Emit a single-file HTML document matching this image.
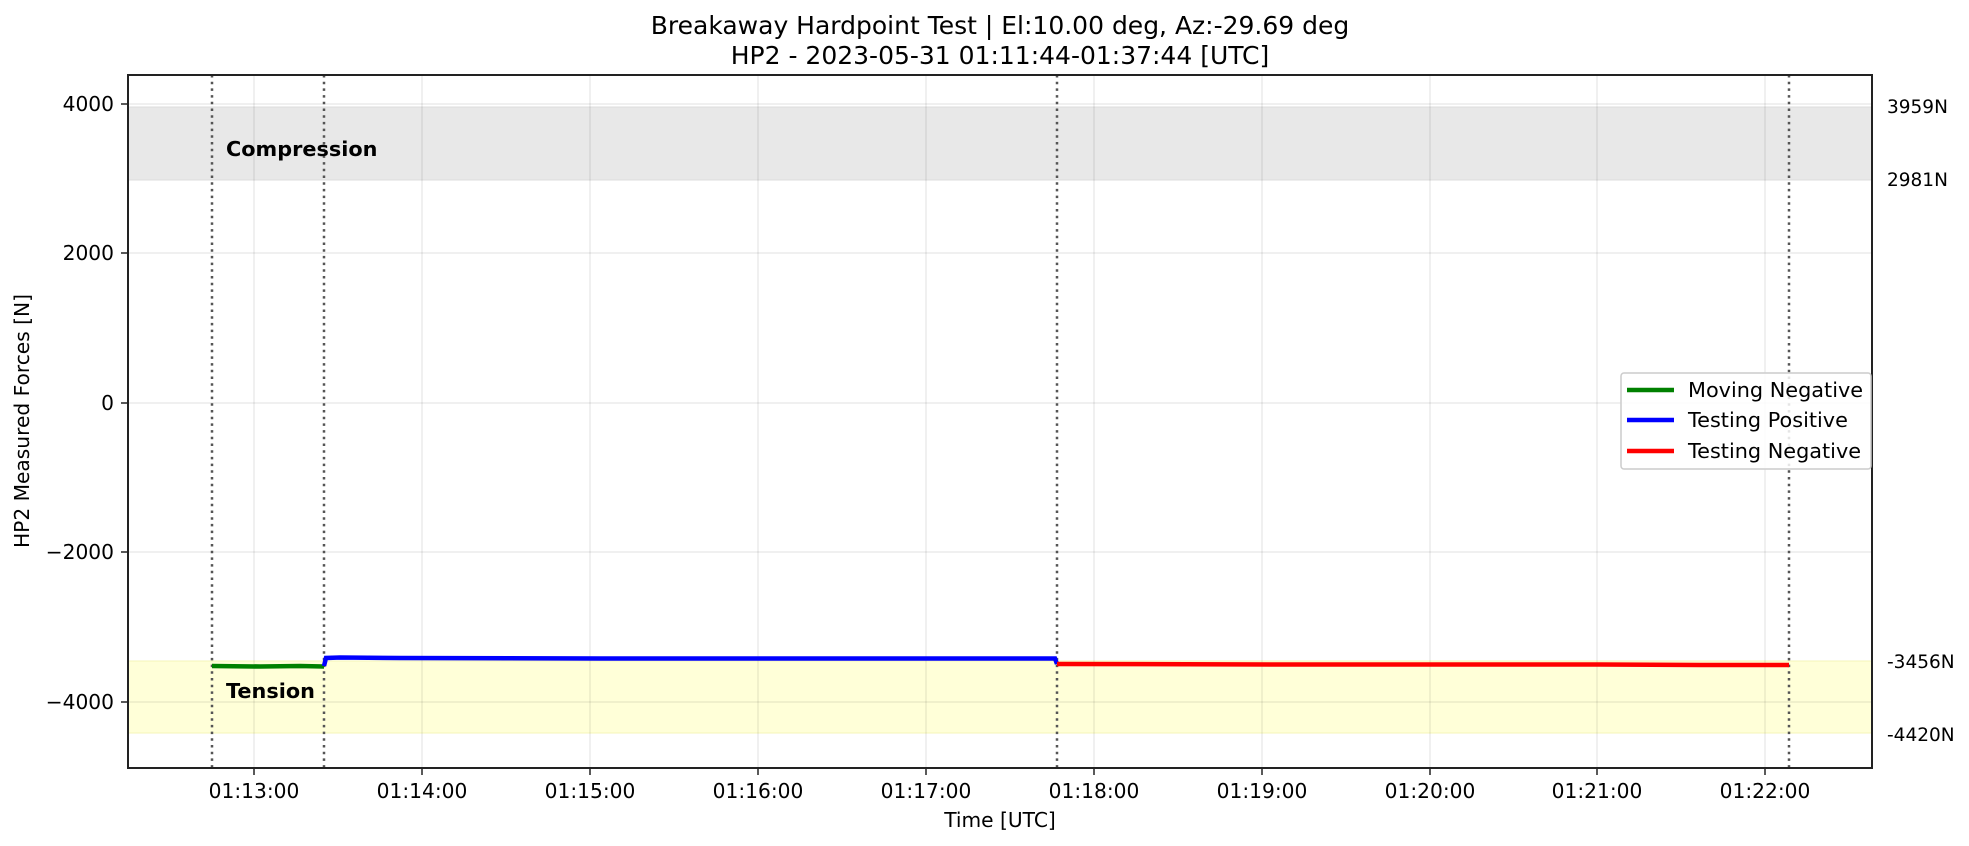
<!DOCTYPE html>
<html><head><meta charset="utf-8"><style>
html,body{margin:0;padding:0;background:#fff}
svg{display:block;font-family:"DejaVu Sans","Liberation Sans",sans-serif}
</style></head><body>
<svg width="1969" height="846" viewBox="0 0 1969 846" xmlns="http://www.w3.org/2000/svg">
<rect width="1969" height="846" fill="#fff"/>
<text x="1000" y="34" font-size="25" text-anchor="middle">Breakaway Hardpoint Test | El:10.00 deg, Az:-29.69 deg</text>
<text x="1000" y="64" font-size="25" text-anchor="middle">HP2 - 2023-05-31 01:11:44-01:37:44 [UTC]</text>
<rect x="128" y="107" width="1744" height="73" fill="#e8e8e8"/>
<line x1="128" y1="107" x2="1872" y2="107" stroke="#dcdcdc" stroke-width="1"/>
<line x1="128" y1="180" x2="1872" y2="180" stroke="#dcdcdc" stroke-width="1"/>
<rect x="128" y="661" width="1744" height="72" fill="#ffffd8"/>
<line x1="128" y1="661" x2="1872" y2="661" stroke="#f5f5b8" stroke-width="1"/>
<line x1="128" y1="733" x2="1872" y2="733" stroke="#f5f5b8" stroke-width="1"/>
<g stroke="#000" stroke-opacity="0.08" stroke-width="1.5">
<line x1="128" y1="104" x2="1872" y2="104"/>
<line x1="128" y1="253" x2="1872" y2="253"/>
<line x1="128" y1="403" x2="1872" y2="403"/>
<line x1="128" y1="552" x2="1872" y2="552"/>
<line x1="128" y1="702" x2="1872" y2="702"/>
<line x1="254" y1="75" x2="254" y2="768"/>
<line x1="422" y1="75" x2="422" y2="768"/>
<line x1="590" y1="75" x2="590" y2="768"/>
<line x1="758" y1="75" x2="758" y2="768"/>
<line x1="926" y1="75" x2="926" y2="768"/>
<line x1="1094" y1="75" x2="1094" y2="768"/>
<line x1="1262" y1="75" x2="1262" y2="768"/>
<line x1="1430" y1="75" x2="1430" y2="768"/>
<line x1="1597" y1="75" x2="1597" y2="768"/>
<line x1="1765" y1="75" x2="1765" y2="768"/>
</g>
<g stroke="#555" stroke-width="2.5" stroke-dasharray="2.5,4.2">
<line x1="212" y1="75" x2="212" y2="768"/>
<line x1="324" y1="75" x2="324" y2="768"/>
<line x1="1057" y1="75" x2="1057" y2="768"/>
<line x1="1789" y1="75" x2="1789" y2="768"/>
</g>
<polyline points="212,666 260,666.5 300,666 324,666.5" fill="none" stroke="#008000" stroke-width="4.5"/>
<polyline points="324,666 326,658 340,657.5 400,658 600,658.5 800,658.5 1000,658.5 1055,658.5 1057,664" fill="none" stroke="#0000ff" stroke-width="4.5"/>
<polyline points="1057,664 1300,664.5 1600,664.5 1700,665 1789,665" fill="none" stroke="#ff0000" stroke-width="4.5"/>
<text x="226" y="156" font-size="20.8" font-weight="bold">Compression</text>
<text x="226" y="698" font-size="20.8" font-weight="bold">Tension</text>
<rect x="128" y="75" width="1744" height="693" fill="none" stroke="#222" stroke-width="2"/>
<g stroke="#222" stroke-width="1.5">
<line x1="121" y1="104" x2="128" y2="104"/><line x1="121" y1="253" x2="128" y2="253"/>
<line x1="121" y1="403" x2="128" y2="403"/><line x1="121" y1="552" x2="128" y2="552"/>
<line x1="121" y1="702" x2="128" y2="702"/>
<line x1="254" y1="768" x2="254" y2="775"/><line x1="422" y1="768" x2="422" y2="775"/>
<line x1="590" y1="768" x2="590" y2="775"/><line x1="758" y1="768" x2="758" y2="775"/>
<line x1="926" y1="768" x2="926" y2="775"/><line x1="1094" y1="768" x2="1094" y2="775"/>
<line x1="1262" y1="768" x2="1262" y2="775"/><line x1="1430" y1="768" x2="1430" y2="775"/>
<line x1="1597" y1="768" x2="1597" y2="775"/><line x1="1765" y1="768" x2="1765" y2="775"/>
</g>
<g font-size="20.2" text-anchor="end">
<text x="114" y="111">4000</text><text x="114" y="260">2000</text><text x="114" y="410">0</text>
<text x="114" y="559">−2000</text><text x="114" y="709">−4000</text>
</g>
<g font-size="20.2" text-anchor="middle">
<text x="254" y="798">01:13:00</text><text x="422" y="798">01:14:00</text><text x="590" y="798">01:15:00</text>
<text x="758" y="798">01:16:00</text><text x="926" y="798">01:17:00</text><text x="1094" y="798">01:18:00</text>
<text x="1262" y="798">01:19:00</text><text x="1430" y="798">01:20:00</text><text x="1597" y="798">01:21:00</text>
<text x="1765" y="798">01:22:00</text>
<text x="1000" y="827">Time [UTC]</text>
<text transform="translate(29,421) rotate(-90)">HP2 Measured Forces [N]</text>
</g>
<g font-size="18.5">
<text x="1887" y="113">3959N</text><text x="1887" y="186">2981N</text>
<text x="1887" y="668">-3456N</text><text x="1887" y="741">-4420N</text>
</g>
<rect x="1621" y="373" width="250" height="96" rx="3" fill="#fff" fill-opacity="0.85" stroke="#ccc" stroke-width="1.5"/>
<line x1="1627" y1="390" x2="1674" y2="390" stroke="#008000" stroke-width="4.5"/>
<line x1="1627" y1="420" x2="1674" y2="420" stroke="#0000ff" stroke-width="4.5"/>
<line x1="1627" y1="451" x2="1674" y2="451" stroke="#ff0000" stroke-width="4.5"/>
<g font-size="20.8">
<text x="1688" y="397">Moving Negative</text>
<text x="1688" y="427">Testing Positive</text>
<text x="1688" y="458">Testing Negative</text>
</g>
</svg>
</body></html>
